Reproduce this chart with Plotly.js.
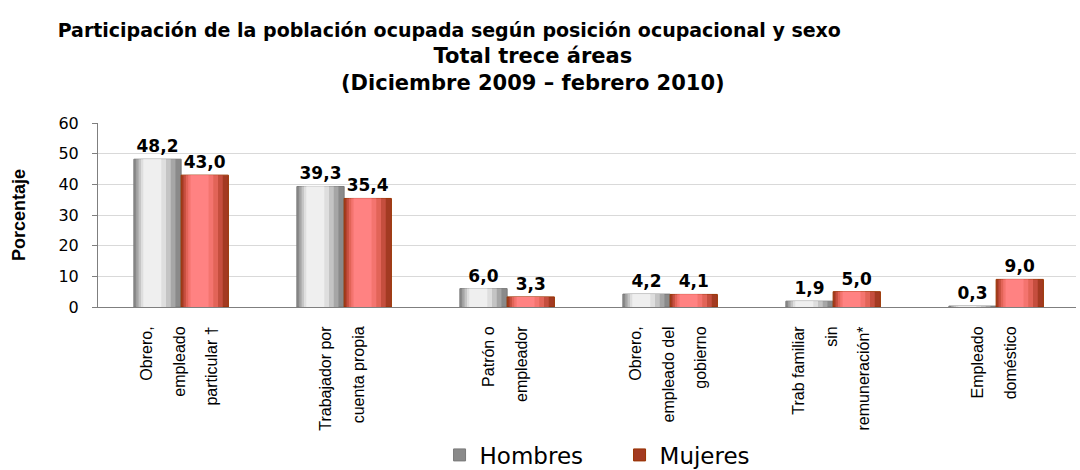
<!doctype html>
<html lang="es">
<head>
<meta charset="UTF-8" />
<title>Población ocupada según posición ocupacional y sexo</title>
<script src="https://cdn.plot.ly/plotly-3.0.1.min.js"></script>
<style>
    body { margin: 0; background: #ffffff; }
    #chart { width: 1080px; height: 470px; }
</style>
</head>
<body>
<div id="chart"></div>
<script>
    // Datos
    const categories = [
        "Obrero,<br>empleado<br>particular †",
        "Trabajador por<br>cuenta propia",
        "Patrón o<br>empleador",
        "Obrero,<br>empleado del<br>gobierno",
        "Trab familiar<br>sin<br>remuneración*",
        "Empleado<br>doméstico"
    ];
    const hombres = [48.2, 39.3, 6.0, 4.2, 1.9, 0.3];
    const mujeres = [43.0, 35.4, 3.3, 4.1, 5.0, 9.0];
    const yTicks = [0, 10, 20, 30, 40, 50, 60];

    const idx = categories.map((c, i) => i);

    // each line of a category label gets its own tick so lines can spread out
    const tickVals = [];
    const tickText = [];
    categories.forEach((c, i) => {
        const lines = c.split("<br>");
        lines.forEach((l, k) => {
            tickVals.push(i + (k - (lines.length - 1) / 2) * 0.2);
            tickText.push(l);
        });
    });
    const bounds = idx.concat([categories.length]).map(i => i - 0.5);

    const wide = "DejaVu Sans, Verdana, sans-serif";

    // a bar drawn as a few nested strips to fake the cylinder shading
    const strips = [
        { s: 0, w: 1 },
        { s: 0.05, w: 0.83 },
        { s: 0.1, w: 0.68 },
        { s: 0.15, w: 0.53 },
        { s: 0.2, w: 0.38 }
    ];
    function barLayers(y, name, colors, lineColor, offset, width) {
        return strips.map((st, j) => ({
            type: "bar",
            x: idx,
            y: y,
            name: name,
            legendgroup: name,
            showlegend: j === 0,
            offset: offset + st.s * width,
            width: width * st.w,
            marker: {
                color: colors[j],
                line: { color: j === 0 ? lineColor : colors[j], width: j === 0 ? 1 : 0 }
            },
            texttemplate: j === 0 ? "%{y:.1f}" : "",
            textposition: "outside",
            constraintext: "none",
            cliponaxis: false,
            textfont: { family: wide, size: 17, weight: "bold", color: "#000000" }
        }));
    }

    const data = []
        .concat(barLayers(hombres, "Hombres",
            ["#8a8a8a", "#a6a6a6", "#c4c4c4", "#dedede", "#efefef"], "#7a7a7a", -0.28, 0.29))
        .concat(barLayers(mujeres, "Mujeres",
            ["#a33a22", "#c54e3e", "#e26458", "#f4746f", "#ff8282"], "#993300", 0.01, 0.29));

    const layout = {
        width: 1080,
        height: 470,
        margin: { l: 98, r: 4, t: 123, b: 163 },
        paper_bgcolor: "#ffffff",
        plot_bgcolor: "#ffffff",
        separators: ",.",
        barmode: "overlay",
        font: { family: "Arial, Liberation Sans, sans-serif", color: "#000000" },
        title: {
            text: "Participación de la población ocupada según posición ocupacional y sexo",
            font: { family: wide, size: 19, weight: "bold" },
            xref: "container",
            x: 0.416,
            xanchor: "center",
            yref: "container",
            y: 0.936,
            yanchor: "middle"
        },
        annotations: [{
            text: "Total trece áreas<br>(Diciembre 2009 – febrero 2010)",
            font: { family: wide, size: 21, weight: "bold" },
            xref: "paper",
            yref: "paper",
            x: 0.445,
            y: 1.29,
            xanchor: "center",
            yanchor: "middle",
            showarrow: false
        }],
        xaxis: {
            type: "linear",
            range: [-0.5, categories.length - 0.5],
            tickmode: "array",
            tickvals: tickVals,
            ticktext: tickText,
            tickangle: -90,
            ticks: "",
            ticklabelstandoff: 12,
            tickfont: { size: 16 },
            showgrid: false,
            zeroline: false,
            showline: true,
            linecolor: "#7f7f7f",
            linewidth: 1,
            automargin: false
        },
        xaxis2: {
            type: "linear",
            overlaying: "x",
            anchor: "y",
            side: "bottom",
            range: [-0.5, categories.length - 0.5],
            tickmode: "array",
            tickvals: bounds,
            ticks: "outside",
            ticklen: 5,
            tickcolor: "#7f7f7f",
            showticklabels: false,
            showgrid: false,
            zeroline: false
        },
        yaxis: {
            range: [0, 60],
            tickmode: "array",
            tickvals: yTicks,
            ticks: "outside",
            ticklen: 5,
            tickcolor: "#7f7f7f",
            ticklabelstandoff: 10,
            tickfont: { family: wide, size: 16 },
            showline: true,
            linecolor: "#7f7f7f",
            gridcolor: "#d9d9d9",
            zeroline: false,
            automargin: false,
            title: {
                text: "Porcentaje",
                font: { size: 18, weight: "bold" },
                standoff: 28
            }
        },
        showlegend: true,
        legend: {
            orientation: "h",
            xref: "container",
            yref: "container",
            x: 0.407,
            xanchor: "left",
            y: 0.032,
            yanchor: "middle",
            font: { family: wide, size: 23 },
            traceorder: "normal",
            itemwidth: 30,
            entrywidth: 135
        },
        hovermode: false
    };

    Plotly.newPlot("chart", data, layout, { staticPlot: true });
</script>
</body>
</html>
